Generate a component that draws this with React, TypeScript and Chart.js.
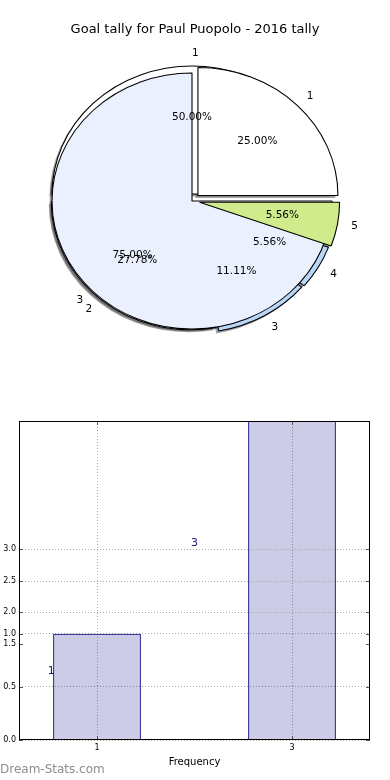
import React, { useEffect, useRef } from 'react';
import { Chart, registerables } from 'chart.js';

Chart.register(...registerables);

// ---------- data ----------
const TITLE = 'Goal tally for Paul Puopolo - 2016 tally';

const pieALabels = ['1', '3'];
const pieAValues = [1, 3];
const pieAColors = ['#ffffff', '#eaf0fe'];
const pieAExplode = [0.06, 0];

const pieBLabels = ['1', '2', '3', '4', '5'];
const pieBValues = [9, 5, 2, 1, 1];
const pieBColors = ['#ffffff', '#eaf0fe', '#b9d6f6', '#b9d6f6', '#cfeb8b'];
const pieBExplode = [0.055, 0.008, 0.035, 0.04, 0.055];

const barCategories = [1, 3];
const barFrequencies = [1, 3];
const barLabelX = [0.53, 2];
const xTicks = [1, 3];
const yTicks = [0, 0.5, 1.0];
const y2Ticks = [1.5, 2.0, 2.5, 3.0];
const X_TITLE = 'Frequency';
const WATERMARK = 'Dream-Stats.com';

// ---------- style ----------
const FONT = '"DejaVu Sans"';
const SX = 140 / 128; // horizontal stretch of the (elliptical) pie

const piePlugin = {
  id: 'piePainter',
  afterDatasetsUpdate(chart: any) {
    const R = chart.getDatasetMeta(0).controller.outerRadius;
    [pieAExplode, pieBExplode].forEach((ex, di) => {
      const meta = chart.getDatasetMeta(di);
      meta.data.forEach((el: any, i: number) => {
        const mid = (el.startAngle + el.endAngle) / 2;
        el.innerRadius = 0;
        el.outerRadius = R;
        el.x += Math.cos(mid) * ex[i] * R;
        el.y += Math.sin(mid) * ex[i] * R;
      });
    });
  },
  beforeDatasetsDraw(chart: any) {
    const { ctx, chartArea } = chart;
    const cx = (chartArea.left + chartArea.right) / 2;
    const cy = (chartArea.top + chartArea.bottom) / 2;
    const A = chart.getDatasetMeta(0).data;
    const B = chart.getDatasetMeta(1).data;
    const frame = () => {
      ctx.translate(cx, cy);
      ctx.scale(SX, -1);
      ctx.translate(-cx, -cy);
    };
    // shadows (all below every wedge)
    ctx.save();
    ctx.translate(-2.5, 2.5);
    frame();
    ctx.fillStyle = 'rgba(70,70,70,0.5)';
    [...B, ...A].forEach((el: any) => {
      ctx.beginPath();
      ctx.moveTo(el.x, el.y);
      ctx.arc(el.x, el.y, el.outerRadius, el.startAngle, el.endAngle);
      ctx.closePath();
      ctx.fill();
    });
    ctx.restore();
    const drawEl = (el: any) => {
      ctx.save();
      frame();
      el.draw(ctx, chartArea);
      ctx.restore();
    };
    B.slice(0, 4).forEach(drawEl);
    A.forEach(drawEl);
    B.slice(4).forEach(drawEl);
    return false;
  },
  afterDraw(chart: any) {
    const { ctx, chartArea } = chart;
    const cx = (chartArea.left + chartArea.right) / 2;
    const cy = (chartArea.top + chartArea.bottom) / 2;
    const R = chart.getDatasetMeta(0).controller.outerRadius;
    const toScreen = (x: number, y: number) => [cx + SX * (x - cx), cy - (y - cy)];
    ctx.save();
    ctx.fillStyle = '#000';
    ctx.font = `10.5px ${FONT}`;
    ctx.textBaseline = 'middle';
    const sets: any[] = [
      [1, pieBLabels, pieBValues],
      [0, pieALabels, pieAValues],
    ];
    sets.forEach(([di, labels, values]) => {
      const meta = chart.getDatasetMeta(di);
      const total = values.reduce((a: number, b: number) => a + b, 0);
      meta.data.forEach((el: any, i: number) => {
        const mid = (el.startAngle + el.endAngle) / 2;
        const c = Math.cos(mid);
        const s = Math.sin(mid);
        const [lx, ly] = toScreen(el.x + 1.1 * R * c, el.y + 1.1 * R * s);
        ctx.textAlign = c > 0 ? 'left' : 'right';
        ctx.fillText(labels[i], lx, ly);
        const [px, py] = toScreen(el.x + 0.6 * R * c, el.y + 0.6 * R * s);
        ctx.textAlign = 'center';
        ctx.fillText(((values[i] / total) * 100).toFixed(2) + '%', px, py);
      });
    });
    ctx.font = `13px ${FONT}`;
    ctx.textAlign = 'center';
    ctx.fillText(TITLE, chart.width / 2, 30);
    ctx.restore();
  },
};

const barPlugin = {
  id: 'barExtras',
  afterDraw(chart: any) {
    const { ctx, chartArea: a, scales } = chart;
    const x = scales.x;
    const y = scales.y;
    const y2 = scales.y2;
    ctx.save();
    // grid lines of the second y scale
    ctx.strokeStyle = '#a8a8a8';
    ctx.lineWidth = 1;
    ctx.setLineDash([1, 2]);
    const yPix = yTicks.map((v) => y.getPixelForValue(v));
    y2Ticks.forEach((v) => {
      const p = Math.round(y2.getPixelForValue(v)) + 0.5;
      if (yPix.some((q) => Math.abs(q - p) < 12)) return;
      ctx.beginPath();
      ctx.moveTo(a.left, p);
      ctx.lineTo(a.right, p);
      ctx.stroke();
    });
    ctx.setLineDash([]);
    // inward tick marks
    ctx.strokeStyle = '#555';
    const t = 4;
    const ys = [...yPix, ...y2Ticks.map((v) => y2.getPixelForValue(v))];
    ys.forEach((p0) => {
      const p = Math.round(p0) + 0.5;
      ctx.beginPath();
      ctx.moveTo(a.left, p);
      ctx.lineTo(a.left + t, p);
      ctx.moveTo(a.right, p);
      ctx.lineTo(a.right - t, p);
      ctx.stroke();
    });
    xTicks.forEach((v) => {
      const p = Math.round(x.getPixelForValue(v)) + 0.5;
      ctx.beginPath();
      ctx.moveTo(p, a.bottom);
      ctx.lineTo(p, a.bottom - t);
      ctx.moveTo(p, a.top);
      ctx.lineTo(p, a.top + t);
      ctx.stroke();
    });
    // second-scale tick labels
    ctx.fillStyle = '#000';
    ctx.font = `8px ${FONT}`;
    ctx.textAlign = 'right';
    ctx.textBaseline = 'middle';
    y2Ticks.forEach((v) => ctx.fillText(v.toFixed(1), a.left - 3, y2.getPixelForValue(v)));
    // frame
    ctx.strokeStyle = '#000';
    ctx.strokeRect(a.left + 0.5, a.top + 0.5, a.right - a.left - 1, a.bottom - a.top - 1);
    // value labels
    ctx.fillStyle = '#1a1a80';
    ctx.font = `11px ${FONT}`;
    ctx.textAlign = 'center';
    ctx.textBaseline = 'bottom';
    barFrequencies.forEach((f, i) => {
      ctx.fillText(String(f), x.getPixelForValue(barLabelX[i]), y2.getPixelForValue(f));
    });
    ctx.restore();
  },
};

export default function App() {
  const pieRef = useRef<HTMLCanvasElement>(null);
  const barRef = useRef<HTMLCanvasElement>(null);

  useEffect(() => {
    const pie = new Chart(pieRef.current as HTMLCanvasElement, {
      type: 'pie',
      data: {
        labels: pieBLabels,
        datasets: [
          { data: pieAValues, backgroundColor: pieAColors, borderColor: '#000', borderWidth: 1, hoverOffset: 0, offset: 0 } as any,
          { data: pieBValues, backgroundColor: pieBColors, borderColor: '#000', borderWidth: 1, hoverOffset: 0, offset: 0 } as any,
        ],
      },
      options: {
        animation: false,
        responsive: true,
        maintainAspectRatio: false,
        events: [],
        rotation: 90,
        layout: { padding: { left: 40, right: 46, top: 72.5, bottom: 70.5 } },
        plugins: { legend: { display: false }, tooltip: { enabled: false }, title: { display: false } },
      } as any,
      plugins: [piePlugin as any],
    });

    const gridCommon = { color: '#a8a8a8', lineWidth: 1, drawTicks: false, offset: false };
    const bar = new Chart(barRef.current as HTMLCanvasElement, {
      type: 'bar',
      data: {
        datasets: [
          {
            data: barCategories.map((c, i) => ({ x: c, y: barFrequencies[i] })),
            backgroundColor: 'rgba(0,0,128,0.2)',
            borderColor: '#000080',
            borderWidth: 1,
            categoryPercentage: 1,
            barPercentage: 0.45,
            xAxisID: 'x',
            yAxisID: 'y',
          } as any,
        ],
      },
      options: {
        animation: false,
        responsive: true,
        maintainAspectRatio: false,
        events: [],
        layout: { padding: { top: 21, right: 20, left: 0, bottom: 0 } },
        plugins: { legend: { display: false }, tooltip: { enabled: false } },
        scales: {
          x: {
            type: 'linear',
            min: 0.2,
            max: 3.8,
            offset: false,
            z: 1,
            afterBuildTicks: (s: any) => {
              s.ticks = xTicks.map((v) => ({ value: v }));
            },
            afterFit: (s: any) => {
              s.height = 40;
            },
            ticks: {
              font: { family: 'DejaVu Sans', size: 8 },
              color: '#000',
              padding: 3,
              autoSkip: false,
              maxRotation: 0,
              callback: (v: any) => String(v),
            },
            grid: gridCommon,
            border: { display: false, dash: [1, 2] },
            title: {
              display: true,
              text: X_TITLE,
              color: '#000',
              font: { family: 'DejaVu Sans', size: 10 },
              padding: { top: 0, bottom: 12 },
            },
          },
          y: {
            type: 'linear',
            position: 'left',
            min: 0,
            max: 3,
            z: 1,
            afterBuildTicks: (s: any) => {
              s.ticks = yTicks.map((v) => ({ value: v }));
            },
            afterFit: (s: any) => {
              s.width = 19;
            },
            ticks: {
              font: { family: 'DejaVu Sans', size: 8 },
              color: '#000',
              padding: 3,
              autoSkip: false,
              callback: (v: any) => Number(v).toFixed(1),
            },
            grid: gridCommon,
            border: { display: false, dash: [1, 2] },
          },
          y2: {
            type: 'linear',
            position: 'left',
            min: 0,
            max: 5,
            display: false,
          },
        },
      } as any,
      plugins: [barPlugin as any],
    });

    return () => {
      pie.destroy();
      bar.destroy();
    };
  }, []);

  return (
    <div style={{ position: 'absolute', left: 0, top: 0, width: 390, height: 780, background: '#fff' }}>
      <div style={{ position: 'absolute', left: 0, top: 0, width: 390, height: 400 }}>
        <canvas ref={pieRef} />
      </div>
      <div style={{ position: 'absolute', left: 0, top: 400, width: 390, height: 380 }}>
        <canvas ref={barRef} />
      </div>
      <div
        style={{
          position: 'absolute',
          left: 0,
          top: 762,
          fontFamily: 'DejaVu Sans',
          fontSize: 12,
          color: '#8c8c8c',
          lineHeight: '14px',
          whiteSpace: 'nowrap',
        }}
      >
        {WATERMARK}
      </div>
    </div>
  );
}
